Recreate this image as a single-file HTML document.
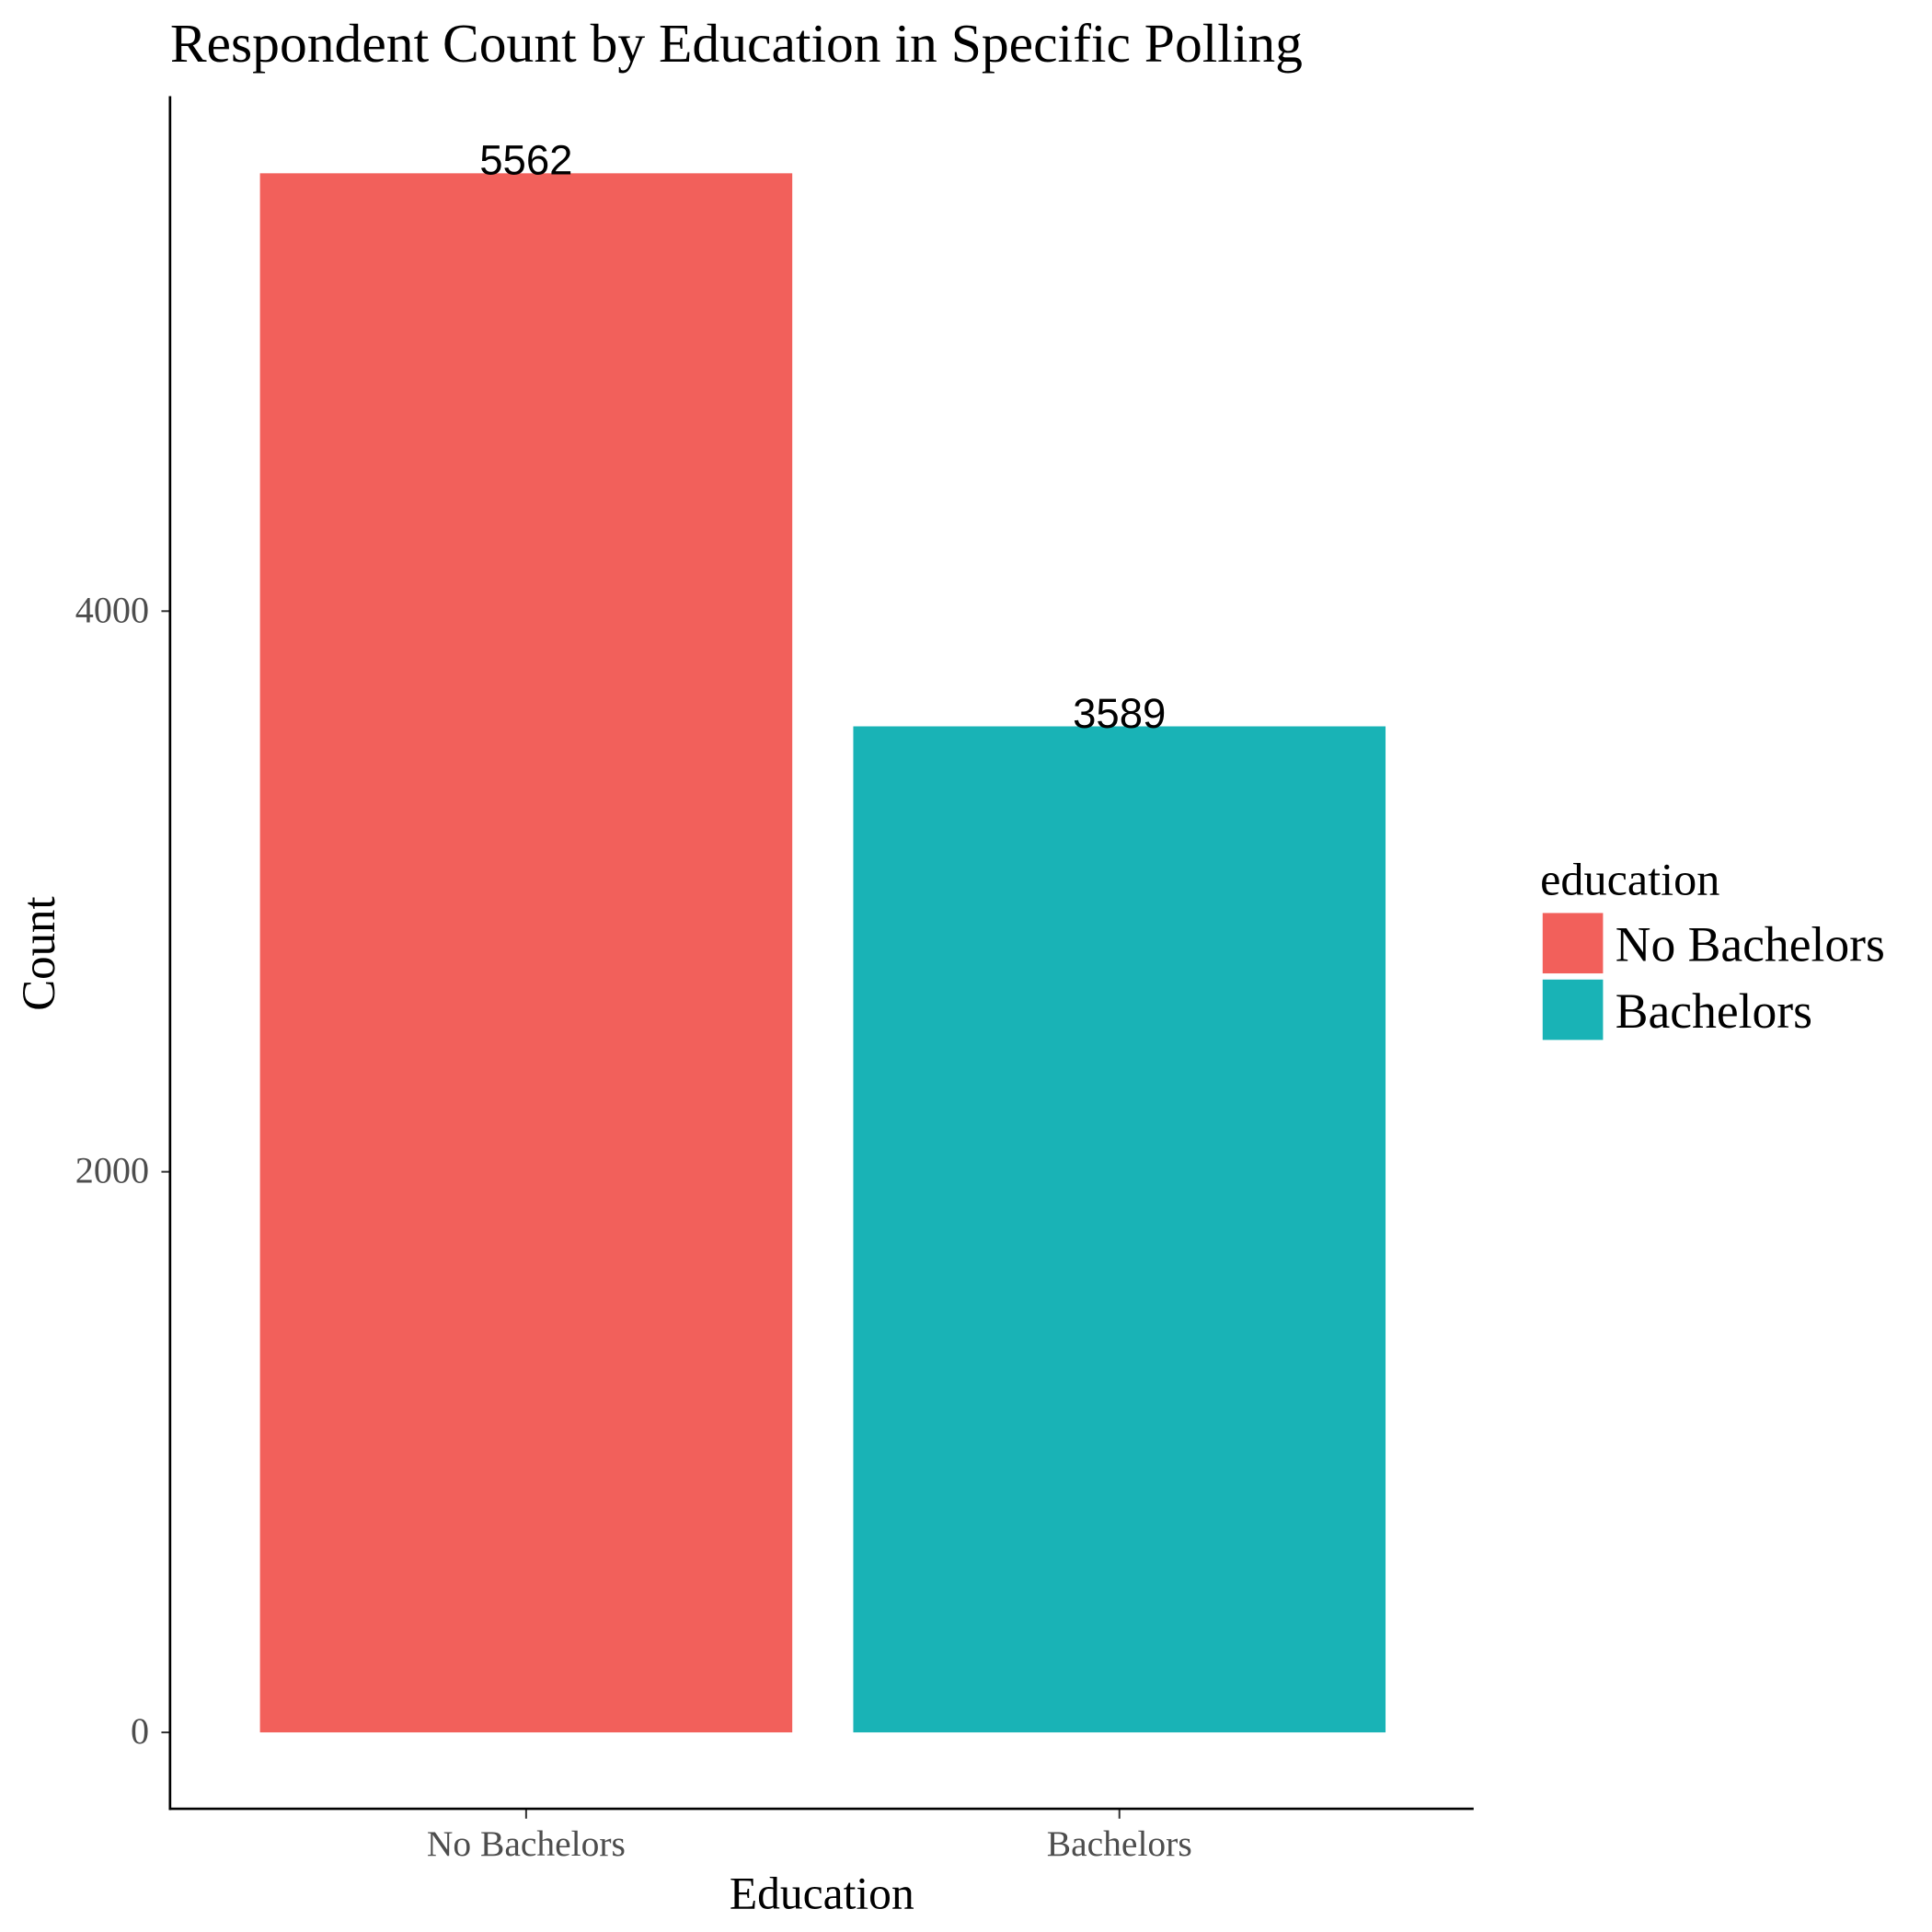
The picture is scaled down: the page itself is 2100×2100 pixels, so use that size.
<!DOCTYPE html>
<html><head><meta charset="utf-8"><style>html,body{margin:0;padding:0;background:#fff;}svg{display:block}</style></head>
<body>
<svg id="chart" width="2100" height="2100" viewBox="0 0 1568 1568" xmlns="http://www.w3.org/2000/svg">
<rect width="1568" height="1568" fill="#fff"/>
<text x="138" y="50" font-family="Liberation Serif, serif" font-size="44.5">Respondent Count by Education in Specific Polling</text>
<g id="plot"></g>
<line x1="138" y1="78" x2="138" y2="1469" stroke="#000" stroke-width="2"/>
<line x1="137" y1="1468" x2="1196" y2="1468" stroke="#000" stroke-width="2"/>
<text x="667" y="1549" text-anchor="middle" font-family="Liberation Serif, serif" font-size="37">Education</text>
<text transform="translate(44,774) rotate(-90)" text-anchor="middle" font-family="Liberation Serif, serif" font-size="38">Count</text>
<g>
<text x="1250" y="726" font-family="Liberation Serif, serif" font-size="37.5">education</text>
<rect x="1252" y="741" width="49" height="49" fill="#F2605B"/>
<rect x="1252" y="795" width="49" height="49" fill="#19B3B6"/>
<text x="1311" y="780" font-family="Liberation Serif, serif" font-size="40">No Bachelors</text>
<text x="1311" y="834" font-family="Liberation Serif, serif" font-size="40">Bachelors</text>
</g>
</svg>
<script>
const categories = ["No Bachelors", "Bachelors"];
const counts = [5562, 3589];
const yTicks = [0, 2000, 4000];
const colors = ["#F2605B", "#19B3B6"];

const NS = "http://www.w3.org/2000/svg";
const g = document.getElementById("plot");
function yScale(v){ return 1406 - v * (910/4000); }
function xCenter(i){ return 427 + i * 481.5; }
const barW = 432;
function mk(tag, attrs){ const e = document.createElementNS(NS, tag); for (const k in attrs) e.setAttribute(k, attrs[k]); g.appendChild(e); return e; }

yTicks.forEach((t) => {
  const y = yScale(t);
  const tk = mk("line", {x1:131, x2:138, y1:y, y2:y, stroke:"#333", "stroke-width":1.5});
  
  
  const lb = mk("text", {x:121, y:y+9, "text-anchor":"end", "font-family":"Liberation Serif, serif", "font-size":30, fill:"#4d4d4d"});
  lb.textContent = t;
  
  
});

categories.forEach((c, i) => {
  const cx = xCenter(i);
  const top = yScale(counts[i]);
  const r = mk("rect", {x:cx-barW/2, y:top, width:barW, height:yScale(0)-top, fill:colors[i]});
  
  
  const v = mk("text", {x:cx, y:top+1, "text-anchor":"middle", "font-family":"Liberation Sans, sans-serif", "font-size":34, fill:"#000"});
  v.textContent = counts[i];
  
  
  const tk = mk("line", {x1:cx, x2:cx, y1:1468, y2:1476, stroke:"#333", "stroke-width":1.5});
  
  
  const lb = mk("text", {x:cx, y:1506, "text-anchor":"middle", "font-family":"Liberation Serif, serif", "font-size":29.5, fill:"#4d4d4d"});
  lb.textContent = c;
  
  
});
</script>
</body></html>
